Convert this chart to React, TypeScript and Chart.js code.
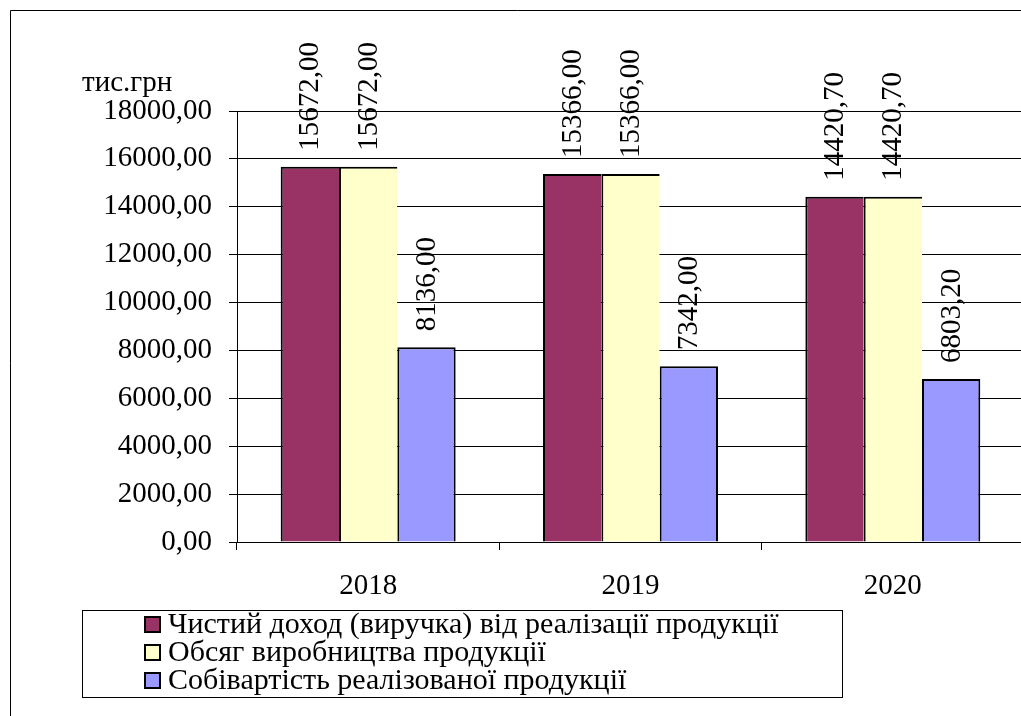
import { useEffect, useRef } from 'react';
import { Chart, registerables } from 'chart.js';

Chart.register(...registerables);

// Years on the category axis
const years = ['2018', '2019', '2020'];

// Series values, тис.грн
const netIncome = [15672.0, 15366.0, 14420.7];
const productionVolume = [15672.0, 15366.0, 14420.7];
const costOfSales = [8136.0, 7342.0, 6803.2];

const seriesNames = [
  'Чистий доход (виручка) від реалізації продукції',
  'Обсяг виробництва продукції',
  'Собівартість реалізованої продукції',
];
const seriesColors = ['#993366', '#FFFFCC', '#9999FF'];

const yMin = 0;
const yMax = 18000;
const yStep = 2000;
const unitLabel = 'тис.грн';

const FONT_FAMILY = '"Liberation Serif", "Times New Roman", Tinos, serif';
const AXIS_FONT_SIZE = 29;
const LEGEND_FONT_SIZE = 30;

const fmt = (v: number) => v.toFixed(2).replace('.', ',');

// Outer frame of the chart object (top and left edges visible)
const framePlugin = {
  id: 'frame',
  beforeDraw(chart: any) {
    const { ctx, width, height } = chart;
    ctx.save();
    ctx.strokeStyle = '#000';
    ctx.lineWidth = 1;
    ctx.beginPath();
    ctx.moveTo(10.5, height + 2);
    ctx.lineTo(10.5, 10.5);
    ctx.lineTo(width + 2, 10.5);
    ctx.stroke();
    ctx.restore();
  },
};

// Vertical value labels above every bar
const valueLabelPlugin = {
  id: 'valueLabels',
  afterDatasetsDraw(chart: any) {
    const { ctx } = chart;
    ctx.save();
    ctx.fillStyle = '#000';
    ctx.font = `${AXIS_FONT_SIZE}px ${FONT_FAMILY}`;
    ctx.textAlign = 'left';
    ctx.textBaseline = 'middle';
    chart.data.datasets.forEach((ds: any, i: number) => {
      const meta = chart.getDatasetMeta(i);
      meta.data.forEach((bar: any, j: number) => {
        ctx.save();
        ctx.translate(bar.x + 1, bar.y - 16);
        ctx.rotate(-Math.PI / 2);
        ctx.fillText(fmt(ds.data[j]), 0, 0);
        ctx.restore();
      });
    });
    ctx.restore();
  },
};

// Unit caption over the value axis and the boxed legend below the plot
const captionLegendPlugin = {
  id: 'captionLegend',
  afterDraw(chart: any) {
    const { ctx } = chart;
    ctx.save();
    ctx.fillStyle = '#000';
    ctx.font = `${AXIS_FONT_SIZE}px ${FONT_FAMILY}`;
    ctx.textAlign = 'left';
    ctx.textBaseline = 'alphabetic';
    ctx.fillText(unitLabel, 82, 91);

    // legend box
    ctx.strokeStyle = '#000';
    ctx.lineWidth = 1;
    ctx.strokeRect(82.5, 610.5, 760, 87);

    ctx.font = `${LEGEND_FONT_SIZE}px ${FONT_FAMILY}`;
    const baselines = [633, 661, 689];
    chart.data.datasets.forEach((ds: any, i: number) => {
      const base = baselines[i];
      ctx.fillStyle = ds.backgroundColor;
      ctx.fillRect(145, base - 16, 15, 15);
      ctx.strokeStyle = '#000';
      ctx.lineWidth = 2;
      ctx.strokeRect(145, base - 16, 15, 15);
      ctx.fillStyle = '#000';
      ctx.textBaseline = 'alphabetic';
      ctx.fillText(ds.label, 168, base);
    });
    ctx.restore();
  },
};

export default function App() {
  const canvasRef = useRef<HTMLCanvasElement | null>(null);

  useEffect(() => {
    let chart: Chart | null = null;
    let cancelled = false;

    const build = () => {
      if (cancelled || !canvasRef.current) return;
      const borderInner = { top: 2, left: 2, right: 0, bottom: 0 };
      const borderLast = { top: 2, left: 2, right: 2, bottom: 0 };
      const seriesData = [netIncome, productionVolume, costOfSales];

      chart = new Chart(canvasRef.current, {
        type: 'bar',
        data: {
          labels: years,
          datasets: seriesData.map((data, i) => ({
            label: seriesNames[i],
            data,
            backgroundColor: seriesColors[i],
            borderColor: '#000',
            borderWidth: i === seriesData.length - 1 ? borderLast : borderInner,
            borderSkipped: false,
            categoryPercentage: 0.667,
            barPercentage: 1,
          })),
        },
        options: {
          responsive: false,
          animation: false,
          layout: { padding: { top: 111, left: 0, right: 0, bottom: 0 } },
          plugins: {
            legend: { display: false },
            tooltip: { enabled: false },
            title: { display: false },
          },
          scales: {
            x: {
              offset: true,
              grid: {
                offset: true,
                drawOnChartArea: false,
                drawTicks: true,
                tickLength: 8,
                color: '#000',
                lineWidth: 1,
              },
              border: { display: true, color: '#000', width: 1 },
              ticks: {
                color: '#000',
                font: { family: FONT_FAMILY, size: AXIS_FONT_SIZE },
                padding: 19,
                maxRotation: 0,
              },
              afterFit: (scale: any) => {
                scale.height = 174;
              },
            },
            y: {
              min: yMin,
              max: yMax,
              grid: {
                drawOnChartArea: true,
                drawTicks: true,
                tickLength: 8,
                color: '#000',
                lineWidth: 1,
              },
              border: { display: true, color: '#000', width: 1 },
              ticks: {
                stepSize: yStep,
                color: '#000',
                font: { family: FONT_FAMILY, size: AXIS_FONT_SIZE },
                padding: 17,
                callback: (v: any) => fmt(Number(v)),
              },
              afterFit: (scale: any) => {
                scale.width = 237;
              },
            },
          },
        },
        plugins: [framePlugin, valueLabelPlugin, captionLegendPlugin],
      });
    };

    const fontsReady = (document as any).fonts
      ? Promise.all([
          document.fonts.load(`${AXIS_FONT_SIZE}px "Liberation Serif"`, '0123456789,тис.грн'),
          document.fonts.load(`${LEGEND_FONT_SIZE}px "Liberation Serif"`, 'Чистий доход'),
        ]).then(() => document.fonts.ready)
      : Promise.resolve();
    fontsReady.then(build, build);

    return () => {
      cancelled = true;
      if (chart) chart.destroy();
    };
  }, []);

  return (
    <div
      style={{
        position: 'absolute',
        left: 0,
        top: 0,
        width: 1021,
        height: 716,
        overflow: 'hidden',
        background: '#fff',
      }}
    >
      <canvas ref={canvasRef} width={1024} height={716} style={{ display: 'block' }} />
    </div>
  );
}
